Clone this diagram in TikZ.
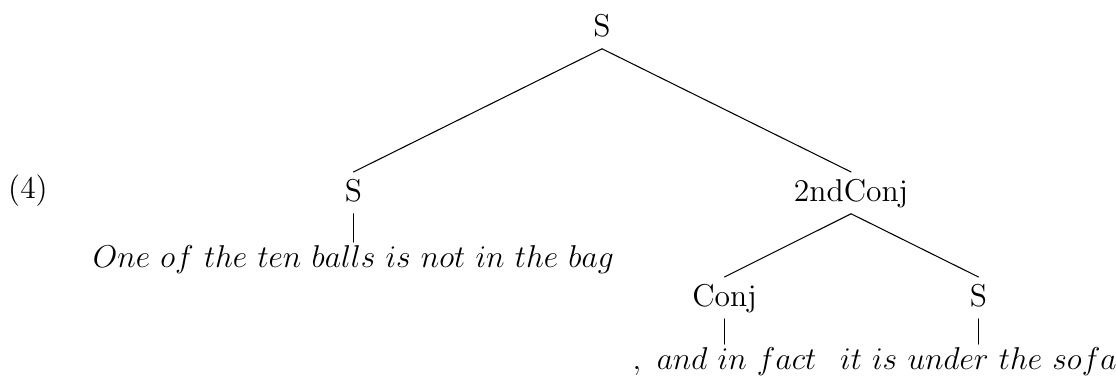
\documentclass[12pt,tikz,border=0pt]{standalone}
\usepackage{amsmath}
\begin{document}
\begin{tikzpicture}[line join=round, line cap=round,
		cat/.style={anchor=base, text height=8.6pt, text depth=1.7pt, inner xsep=1pt, inner ysep=2.6pt},
		leaf/.style={anchor=base, text height=9pt, text depth=2.3pt, inner xsep=1pt, inner ysep=0.6pt}]
	\useasboundingbox (0,0) rectangle (14.915,5.065);
	
	% Số thứ tự ví dụ
	\node[anchor=base] (num) at (0.374,2.406) {(4)};
	
	% Nút gốc
	\node[cat] (S0) at (8.046,4.571) {S};
	
	% Tầng 1
	\node[cat] (S1) at (4.7245,2.366) {S};
	\node[cat] (C2) at (11.374,2.366) {2ndConj};
	\draw (S0.south) -- (S1.north);
	\draw (S0.south) -- (C2.north);
	
	% Lá dưới S trái
	\node[leaf] (L1) at (4.7245,1.484) {$One\ of\ the\ ten\ balls\ is\ not\ in\ the\ bag$};
	\draw (S1.south) -- (L1.north);
	
	% Tầng 2
	\node[cat] (CJ) at (9.6829,0.962) {Conj};
	\node[cat] (S3) at (13.0778,0.962) {S};
	\draw (C2.south) -- (CJ.north);
	\draw (C2.south) -- (S3.north);
	
	% Lá dưới Conj và S phải
	\node[leaf] (L2) at (9.6829,0.120) {$,\ and\ in\ fact$};
	\node[leaf] (L3) at (13.0778,0.120) {$it\ is\ under\ the\ sofa$};
	\draw (CJ.south) -- (L2.north);
	\draw (S3.south) -- (L3.north);
\end{tikzpicture}
\end{document}
